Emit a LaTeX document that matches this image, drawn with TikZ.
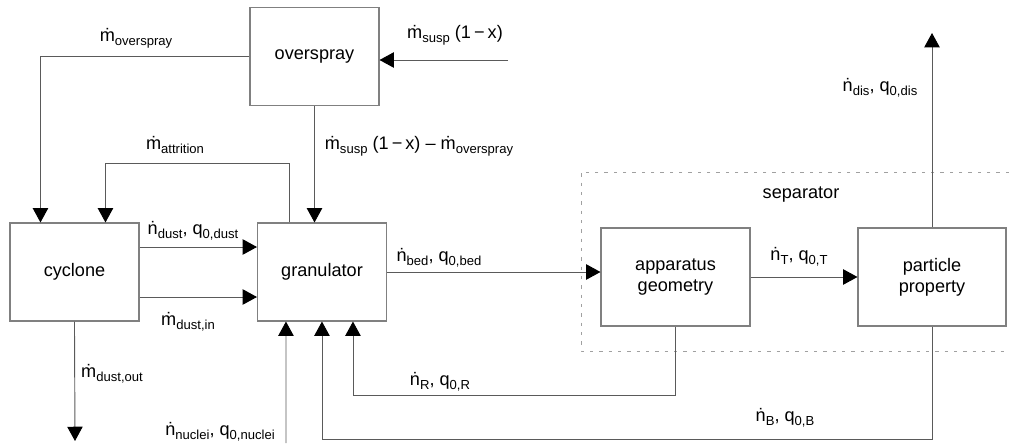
\documentclass[tikz,border=0pt]{standalone}
\usepackage{fontspec}
\setmainfont{Liberation Sans}
\usetikzlibrary{arrows.meta,calc}
\newcommand\lsub[1]{\raisebox{-0.45ex}{\fontsize{9.8}{10}\selectfont #1}}
\definecolor{boxgray}{HTML}{808080}
\definecolor{linegray}{HTML}{5A5A5A}
\definecolor{dashgray}{HTML}{A0A0A0}
\begin{document}
\begin{tikzpicture}[x=0.75pt,y=-0.75pt,
  blk/.style={draw=boxgray,line width=0.8pt,minimum width=96.75pt,minimum height=73.5pt,align=center,inner sep=0pt,font=\fontsize{13.6}{15.5}\selectfont},
  lbl/.style={inner sep=0pt,font=\fontsize{13.6}{15}\selectfont},
  arr/.style={draw=linegray,line width=0.7pt,-{Triangle[length=10.7pt,width=11.5pt,fill=black,color=black]}},
  ln/.style={draw=linegray,line width=0.7pt}]
\useasboundingbox (0,0) rectangle (1009,443);
% separator frame
\draw[dashgray,line width=0.7pt,dash pattern=on 2.5pt off 4.5pt] (1009,172) -- (581,172) -- (581,351) -- (1009,351);
% blocks
\node[blk] (ov) at (314.5,56.5) {overspray};
\node[blk] (cy) at (74.5,272) {cyclone};
\node[blk] (gr) at (322,272) {granulator};
\node[blk,minimum width=111.75pt] (ap) at (675.5,277) {apparatus\\geometry};
\node[blk,minimum width=111pt] (pp) at (932,277) {particle\\property};
% free ends
\coordinate (sin) at (508,60);
\coordinate (dis) at (932,33);
\coordinate (nuc) at (286,443);
\coordinate (dout) at (75,441);
% connectors
\draw[arr] (sin) -- (sin -| ov.east);
\draw[arr] (ov.west) -| ($(cy.north west)+(31,0)$);
\draw[arr] (ov.south) -- (ov.south |- gr.north);
\draw[arr] ($(gr.north west)+(32,0)$) -- ++(0,-59) -| ($(cy.north west)+(96,0)$);
\draw[arr] ($(cy.east)+(0,-25)$) -- ($(gr.west)+(0,-25)$);
\draw[arr] ($(cy.east)+(0,25)$) -- ($(gr.west)+(0,25)$);
\draw[arr] (gr.east) -- (gr.east -| ap.west);
\draw[arr] (ap.east) -- (pp.west);
\draw[arr] (pp.north) -- (dis);
\draw[arr] (ap.south) -- ++(0,69) -| ($(gr.south west)+(96,0)$);
\draw[arr] (pp.south) -- ++(0,113) -| ($(gr.south west)+(65,0)$);
\draw[arr] (nuc) -- ($(gr.south west)+(29,0)$);
\draw[arr] ($(cy.south west)+(65,0)$) -- (dout);
% labels
\node[lbl] (l1) at (136,38) {\.m\lsub{overspray}};
\node[lbl] (l2) at (455,35) {\.m\lsub{susp} (1\,−\,x)};
\node[lbl] (l3) at (419,146) {\.m\lsub{susp} (1\,−\,x) – \.m\lsub{overspray}};
\node[lbl] (l4) at (175,145) {\.m\lsub{attrition}};
\node[lbl] (l5) at (193,231) {\.n\lsub{dust}, q\lsub{0,dust}};
\node[lbl] (l6) at (188,322) {\.m\lsub{dust,in}};
\node[lbl] (l7) at (112,374) {\.m\lsub{dust,out}};
\node[lbl] (l8) at (220,432) {\.n\lsub{nuclei}, q\lsub{0,nuclei}};
\node[lbl] (l9) at (439,258) {\.n\lsub{bed}, q\lsub{0,bed}};
\node[lbl] (l10) at (440,382) {\.n\lsub{R}, q\lsub{0,R}};
\node[lbl] (l11) at (785,418) {\.n\lsub{B}, q\lsub{0,B}};
\node[lbl] (l12) at (799,257) {\.n\lsub{T}, q\lsub{0,T}};
\node[lbl] (l13) at (880,88) {\.n\lsub{dis}, q\lsub{0,dis}};
\node[lbl] (l14) at (801,195) {separator};
\end{tikzpicture}
\end{document}
